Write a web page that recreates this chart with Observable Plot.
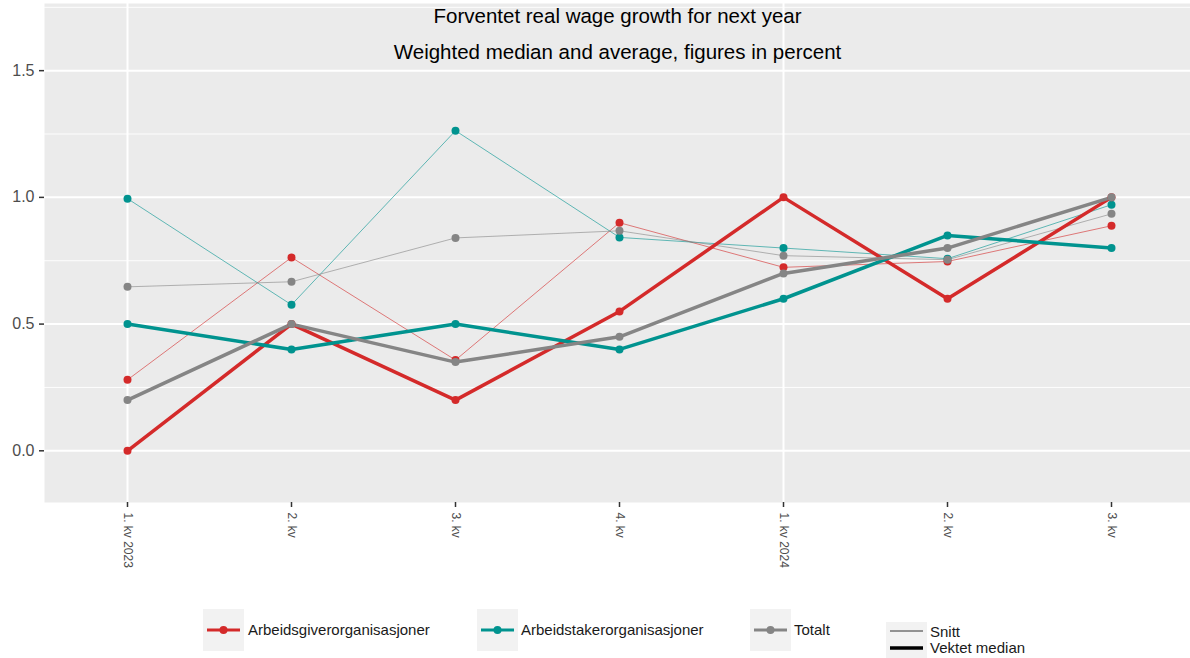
<!DOCTYPE html>
<html><head><meta charset="utf-8">
<script src="https://cdn.jsdelivr.net/npm/d3@7"></script>
<script src="https://cdn.jsdelivr.net/npm/@observablehq/plot@0.6"></script>
<style>
html,body{margin:0;padding:0;background:#fff;overflow:hidden;width:1190px;height:658px;font-family:"Liberation Sans",Arial,sans-serif;}
#chart{position:absolute;left:0;top:0;}
.lg{position:absolute;font-size:15px;color:#1a1a1a;white-space:nowrap;line-height:15px;}
.key{position:absolute;background:#f2f2f2;}
</style></head><body>
<div id="chart"></div>
<div id="legend"></div>
<script>
const quarterLabels = ["1. kv 2023", "2. kv", "3. kv", "4. kv", "1. kv 2024", "2. kv", "3. kv"];
const groups = ["Arbeidsgiverorganisasjoner", "Arbeidstakerorganisasjoner", "Totalt"];
const groupColors = ["#d42a2a", "#00938f", "#858585"];
const lineTypes = ["Snitt", "Vektet median"];
const yTicks = [0, 0.5, 1, 1.5];

const medianArbeidsgiver = [0.00, 0.50, 0.20, 0.55, 1.00, 0.60, 1.00];
const medianArbeidstaker = [0.50, 0.40, 0.50, 0.40, 0.60, 0.85, 0.80];
const medianTotalt       = [0.20, 0.50, 0.35, 0.45, 0.70, 0.80, 1.00];
const snittArbeidsgiver  = [0.280, 0.763, 0.358, 0.900, 0.724, 0.747, 0.888];
const snittArbeidstaker  = [0.995, 0.576, 1.263, 0.842, 0.800, 0.758, 0.971];
const snittTotalt        = [0.647, 0.667, 0.840, 0.868, 0.770, 0.754, 0.935];

function rows(values, group) { return values.map((v, i) => ({q: i, value: v, group})); }
const medianRows = [
  ...rows(medianArbeidsgiver, groups[0]),
  ...rows(medianArbeidstaker, groups[1]),
  ...rows(medianTotalt, groups[2])
];
const snittRows = [
  ...rows(snittArbeidsgiver, groups[0]),
  ...rows(snittArbeidstaker, groups[1]),
  ...rows(snittTotalt, groups[2])
];

const W = 1190, H = 605;
const chart = Plot.plot({
  width: W, height: H,
  marginLeft: 44, marginRight: 0, marginTop: 3, marginBottom: 103,
  style: {fontFamily: '"Liberation Sans", Arial, sans-serif', color: "#333", background: "transparent"},
  x: {type: "point", domain: d3.range(quarterLabels.length), range: [126, 1111], padding: 0, label: null},
  y: {domain: [-0.204, 1.765], label: null},
  color: {domain: groups, range: groupColors},
  marks: [
    Plot.frame({fill: "#ebebeb"}),
    Plot.ruleY([0.25, 0.75, 1.25, 1.75], {stroke: "white", strokeWidth: 0.9}),
    Plot.ruleY(yTicks, {stroke: "white", strokeWidth: 2}),
    Plot.ruleX([0, 4], {stroke: "white", strokeWidth: 2}),
    Plot.line(snittRows, {x: "q", y: "value", z: "group", stroke: "group", strokeWidth: 1, strokeOpacity: 0.6}),
    Plot.dot(snittRows, {x: "q", y: "value", fill: "group", r: 4}),
    Plot.line(medianRows, {x: "q", y: "value", z: "group", stroke: "group", strokeWidth: 3.5}),
    Plot.dot(medianRows, {x: "q", y: "value", fill: "group", r: 4}),
    Plot.axisY({ticks: yTicks, tickFormat: d3.format(".1f"), tickSize: 5, tickPadding: 5, fontSize: 16, strokeWidth: 1.5, label: null}),
    Plot.axisX({tickFormat: i => quarterLabels[i], tickRotate: 90, tickSize: 5, tickPadding: 5, fontSize: 12, strokeWidth: 1.5, label: null}),
    Plot.text(["Forventet real wage growth for next year"], {frameAnchor: "top", dy: 5, fontSize: 20.5, fill: "black"}),
    Plot.text(["Weighted median and average, figures in percent"], {frameAnchor: "top", dy: 41, fontSize: 20.5, fill: "black"})
  ]
});
chart.querySelectorAll('[aria-label="y-axis tick label"] text, [aria-label="x-axis tick label"] text').forEach(t => t.setAttribute("fill", "#4d4d4d"));
document.getElementById("chart").appendChild(chart);

// Legend
const legend = document.getElementById("legend");
const items = [
  {x: 203, tx: 248},
  {x: 477, tx: 521},
  {x: 750, tx: 794}
];
groups.forEach((g, i) => {
  const k = document.createElement("div");
  k.className = "key";
  k.style.left = items[i].x + "px"; k.style.top = "609px"; k.style.width = "41px"; k.style.height = "42px";
  k.innerHTML = `<svg width="41" height="42"><line x1="4" x2="37" y1="21" y2="21" stroke="${groupColors[i]}" stroke-width="3"/><circle cx="20.5" cy="21" r="4" fill="${groupColors[i]}"/></svg>`;
  legend.appendChild(k);
  const t = document.createElement("div");
  t.className = "lg"; t.textContent = g;
  t.style.left = items[i].tx + "px"; t.style.top = "622px";
  legend.appendChild(t);
});
const k2 = document.createElement("div");
k2.className = "key";
k2.style.left = "886px"; k2.style.top = "622px"; k2.style.width = "41px"; k2.style.height = "36px";
k2.innerHTML = `<svg width="41" height="36"><line x1="4" x2="37" y1="9" y2="9" stroke="black" stroke-width="0.8"/><line x1="4" x2="37" y1="26" y2="26" stroke="black" stroke-width="3.5"/></svg>`;
legend.appendChild(k2);
lineTypes.forEach((lt, i) => {
  const t = document.createElement("div");
  t.className = "lg"; t.textContent = lt;
  t.style.left = "930px"; t.style.top = (624 + i * 16) + "px";
  legend.appendChild(t);
});
</script>
</body></html>
